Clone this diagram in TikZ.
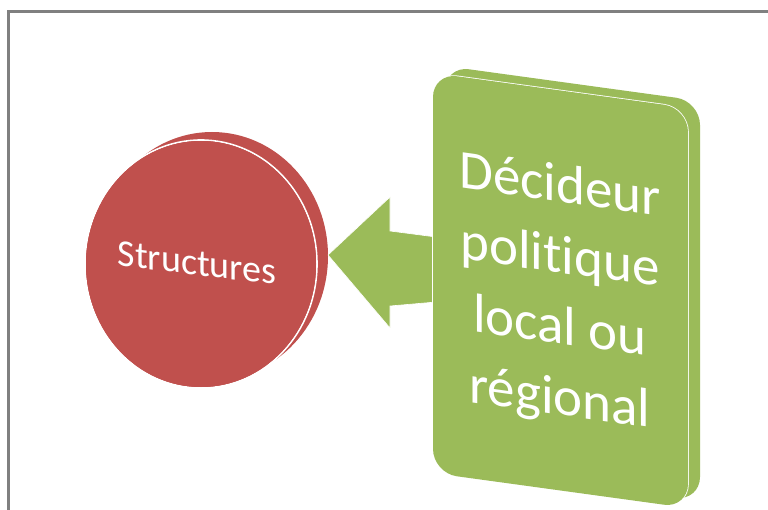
\documentclass[tikz,border=0pt]{standalone}
\usepackage{fontspec}
\setmainfont{Carlito}[Ligatures={NoCommon}]
\definecolor{olive}{HTML}{9BBB59}
\definecolor{brick}{HTML}{C0504D}
\definecolor{framegray}{HTML}{808080}
\tikzset{
  card/.style={fill=olive, rounded corners=24pt},
  disc/.style={fill=brick},
  sep/.style={draw=white, line width=1.6pt},
  label/.style={text=white, inner sep=0pt, align=center, transform shape}
}
\begin{document}
\begin{tikzpicture}[x=1pt,y=-1pt]
\useasboundingbox (0,0) rectangle (768,510);
% frame
\draw[framegray, line width=2.5pt] (8.7,510) -- (8.7,11.5) -- (768,11.5);
% red disc (thickness behind, then face)
\fill[disc] (212,256) ellipse [x radius=116pt, y radius=124pt];
\fill[disc] (201,264) ellipse [x radius=116pt, y radius=124pt];
\draw[sep] (201,264) ellipse [x radius=116pt, y radius=124pt];
\fill[brick] (201,264) ellipse [x radius=115pt, y radius=123pt];
\begin{scope}[shift={(197,263)}, yslant=-0.12]
\node[label, font=\fontsize{38}{42}\selectfont] (structures) at (0,0) {Structures};
\end{scope}
% arrow
\fill[olive, draw=white, line width=0.6pt] (328,255) -- (390,197) -- (390,231) -- (436,237) -- (436,302) -- (390,306) -- (390,328) -- cycle;
% green card (thickness behind, then face)
\fill[card] (445,66) -- (700,101) -- (700,501) -- (445,466) -- cycle;
\draw[card, sep] (433,73) -- (688,108) -- (688,508) -- (433,473) -- cycle;
\fill[card] (433,73) -- (688,108) -- (688,508) -- (433,473) -- cycle;
\begin{scope}[shift={(560,294)}, yslant=-0.14]
\node[label, font=\fontsize{55}{71}\selectfont] (decideur) at (0,0) {Décideur\\politique\\local ou\\régional};
\end{scope}
\end{tikzpicture}
\end{document}
